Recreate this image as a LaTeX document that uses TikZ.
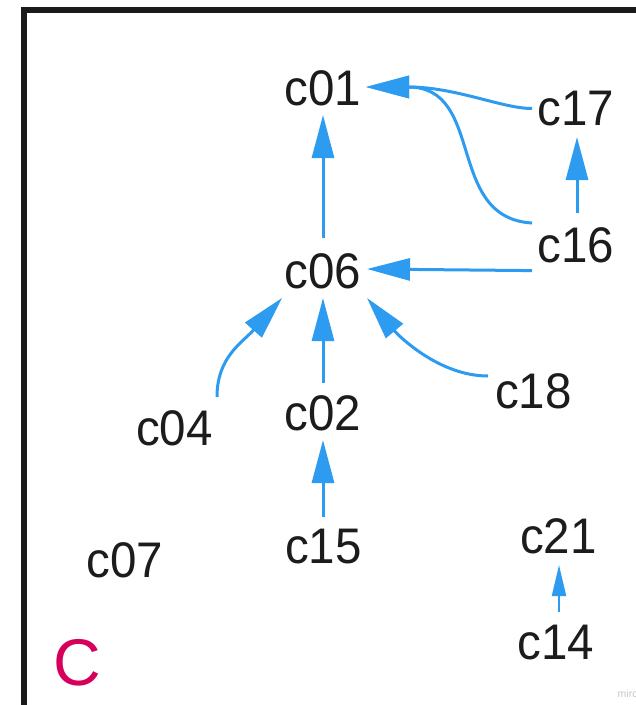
\documentclass[tikz,border=0pt]{standalone}
\usepackage{fontspec}
\usepackage{graphicx}
\setmainfont{Liberation Sans}
\usetikzlibrary{arrows.meta}
\definecolor{edgeblue}{RGB}{45,156,240}
\definecolor{inkc}{RGB}{28,28,28}
\definecolor{tagred}{RGB}{214,0,92}
\definecolor{framec}{RGB}{26,26,26}
\newcommand{\nlab}[1]{\scalebox{0.95}[1]{#1}}
\begin{document}
\begin{tikzpicture}[x=1pt,y=-1pt,
  lbl/.style={inner sep=0pt, outer sep=0pt, text=inkc, font=\fontsize{50}{60}\selectfont},
  conn/.style={draw=edgeblue, line width=3pt, -{Triangle[length=43pt,width=22pt]}},
  smallconn/.style={draw=edgeblue, line width=2pt, -{Triangle[length=31pt,width=14pt]}}]
\useasboundingbox (0,0) rectangle (636,705);
\fill[white] (0,0) rectangle (636,705);
% frame
\draw[framec, line width=6pt, line join=miter] (24,705) -- (24,10) -- (636,10);
% nodes
\node[lbl] (c01) at (323,88) {\nlab{c01}};
\node[lbl] (c17) at (576,108.5) {\nlab{c17}};
\node[lbl] (c16) at (576,245) {\nlab{c16}};
\node[lbl] (c06) at (323,271) {\nlab{c06}};
\node[lbl] (c04) at (174.5,428.5) {\nlab{c04}};
\node[lbl] (c02) at (323,413.5) {\nlab{c02}};
\node[lbl] (c18) at (533.5,391.5) {\nlab{c18}};
\node[lbl] (c07) at (125,560) {\nlab{c07}};
\node[lbl] (c15) at (323.5,546.5) {\nlab{c15}};
\node[lbl] (c21) at (558.5,536.5) {\nlab{c21}};
\node[lbl] (c14) at (556,642.5) {\nlab{c14}};
\node[inner sep=0pt, text=tagred, font=\fontsize{66}{70}\selectfont] (tag) at (77.5,662.5) {C};
\node[inner sep=0pt, anchor=base west, text=black!22, font=\fontsize{10.5}{12}\selectfont] (wm) at (617.5,697) {mirc};
% connectors
\draw[conn] ([shift={(0,-33)}]c06.center) -- ([shift={(0,27)}]c01.center);
\draw[conn] ([shift={(-44,0)}]c17.center) .. controls +(-30,0) and +(90,0) .. ([shift={(43,-1)}]c01.center);
\draw[conn] ([shift={(-44,-22)}]c16.center) .. controls +(-87,-5) and +(120,0) .. ([shift={(43,-1)}]c01.center);
\draw[conn] ([shift={(-44,25.6)}]c16.center) -- ([shift={(44,-2)}]c06.center);
\draw[conn] ([shift={(1,-32)}]c16.center) -- ([shift={(1,28.5)}]c17.center);
\draw[conn] ([shift={(42.5,-31.5)}]c04.center) .. controls +(0,-40) and +(-40,45) .. ([shift={(-41,27)}]c06.center);
\draw[conn] ([shift={(0,-30.5)}]c02.center) -- ([shift={(0,27)}]c06.center);
\draw[conn] ([shift={(-45.5,-15.5)}]c18.center) .. controls +(-50,0) and +(30,36) .. ([shift={(44,27)}]c06.center);
\draw[conn] ([shift={(-0.5,-29.5)}]c15.center) -- ([shift={(0,26.5)}]c02.center);
\draw[smallconn] ([shift={(3,-30.5)}]c14.center) -- ([shift={(0.5,28.5)}]c21.center);
\end{tikzpicture}
\end{document}
